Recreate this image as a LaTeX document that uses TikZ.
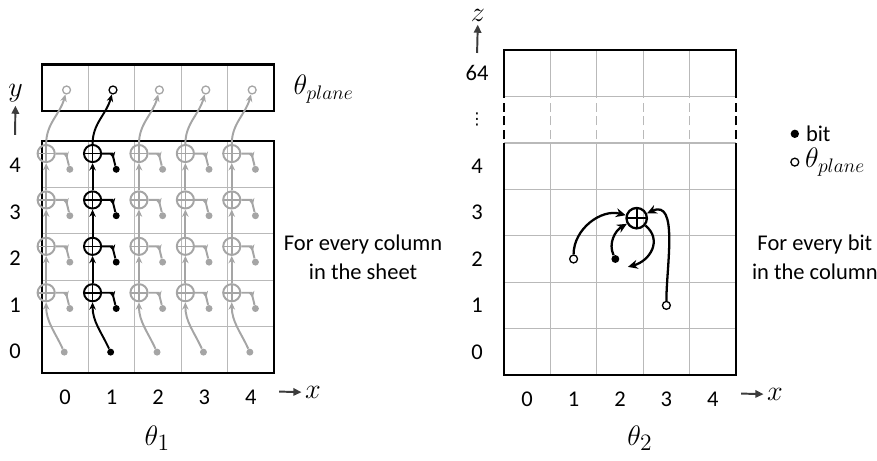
\documentclass[tikz,border=0pt]{standalone}
\usepackage{fontspec}
\setmainfont{Carlito}
\newfontfamily\dotsfont{DejaVu Sans}
\usetikzlibrary{positioning, arrows.meta, decorations.markings}
\definecolor{gridgray}{RGB}{185,185,185}
\definecolor{fadegray}{RGB}{165,165,165}
\definecolor{axisgray}{RGB}{60,60,60}

\begin{document}
\begin{tikzpicture}[
    every node/.style={font=\fontsize{13.8}{17.8}\selectfont},
    xorop/.style={circle, draw, inner sep=0pt, minimum size=0.37cm, line width=1.2pt,
      path picture={\draw[line width=1pt] (path picture bounding box.north) -- (path picture bounding box.south)
        (path picture bounding box.west) -- (path picture bounding box.east);}},
    bigxor/.style={xorop, minimum size=0.44cm, line width=1.4pt},
    bitdot/.style={circle, fill, inner sep=0pt, minimum size=0.15cm},
    planedot/.style={circle, draw, fill=white, inner sep=0pt, minimum size=0.17cm, line width=0.8pt},
    flow/.style={line width=1.2pt, -{Stealth[length=4.5pt,width=4pt]}},
    bigflow/.style={line width=1.4pt, -{Stealth[length=6pt,width=5.5pt]}},
    hook/.style={line width=1.2pt, postaction=decorate,
      decoration={markings, mark=at position 0.68 with {\arrow{Stealth[length=4pt,width=4pt]}}}},
    gridline/.style={gridgray, line width=0.8pt},
    border/.style={line width=1.5pt},
    axis/.style={axisgray, line width=1.2pt, -{Triangle[length=5pt,width=4.5pt]}},
    axisvar/.style={font=\fontsize{18}{18}\selectfont, inner sep=2pt},
    caption/.style={font=\fontsize{19}{19}\selectfont},
  ]
  \useasboundingbox (0,0) rectangle (18.901,9.914);

  \begin{scope}[shift={(0.905,1.875)}]
    \foreach \i in {1,...,4} \draw[gridline] (\i,0) -- (\i,5) (0,\i) -- (5,\i) (\i,5.65) -- (\i,6.65);
    \draw[border] (0,0) rectangle (5,5);
    \draw[border] (0,5.65) rectangle (5,6.65);
    \foreach \c/\col in {0/fadegray,1/black,2/fadegray,3/fadegray,4/fadegray} {
      \node[bitdot, fill=\col] (b\c0) at (\c+0.48,0.45) {};
      \node[planedot, draw=\col] (p\c) at (\c+0.53,6.1) {};
      \foreach \r in {1,...,4} {
        \node[xorop, \col] (x\c\r) at (\c+0.09,\r+0.73) {};
        \node[bitdot, fill=\col] (b\c\r) at (\c+0.6,\r+0.39) {};
        \draw[hook, \col] (x\c\r.east) -- ++(0.22,0) -- (b\c\r);
      }
      \draw[flow, \col] (b\c0) to[out=115,in=-90] (x\c1);
      \foreach \r [count=\s from 2] in {1,2,3} \draw[flow, \col] (x\c\r) -- (x\c\s);
      \draw[flow, \col] (x\c4) to[out=90,in=-105] (p\c);
    }
    \foreach \i in {0,...,4} {
      \node (row\i) at (-0.58,\i+0.47) {\i};
      \node (col\i) at (\i+0.5,-0.52) {\i};
    }
    \coordinate (ytail) at (-0.58,5.13);
    \node[axisvar] (yvar) at (-0.57,6.03) {$y$};
    \draw[axis] (ytail) -- (yvar);
    \coordinate (xtail) at (5.11,-0.40);
    \node[axisvar] (xvar) at (5.84,-0.42) {$x$};
    \draw[axis] (xtail) -- (xvar);
    \node[font=\fontsize{17}{17}\selectfont, anchor=west] (plane) at (5.3,6.12) {$\theta_{plane}$};
    \node[align=center] (sheet) at (6.92,2.5) {For every column\\in the sheet};
  \end{scope}
  \node[caption] (theta1) at (3.39,0.47) {$\theta_1$};

  \begin{scope}[shift={(10.862,1.832)}]
    \foreach \i in {1,...,4} {
      \draw[gridline] (\i,0) -- (\i,5) (\i,6) -- (\i,7);
      \draw[gridline, dash pattern=on 5.5pt off 3pt] (\i,5.08) -- (\i,6);
    }
    \foreach \i in {1,...,6} \draw[gridline] (0,\i) -- (5,\i);
    \draw[border] (0,5) -- (0,0) -- (5,0) -- (5,5) (0,6) -- (0,7) -- (5,7) -- (5,6);
    \draw[border, dash pattern=on 5.5pt off 3pt] (0,5.08) -- (0,6) (5,5.08) -- (5,6);
    \foreach \i in {0,...,4} {
      \node (zrow\i) at (-0.58,\i+0.5) {\i};
      \node (zcol\i) at (\i+0.5,-0.52) {\i};
    }
    \node (zdots) at (-0.58,5.5) {\dotsfont\fontsize{10}{10}\selectfont ⋮};
    \node (ztop) at (-0.58,6.5) {64};
    \coordinate (ztail) at (-0.58,6.94);
    \node[axisvar] (zvar) at (-0.56,7.76) {$z$};
    \draw[axis] (ztail) -- (zvar);
    \coordinate (xtail2) at (5.11,-0.40);
    \node[axisvar] (xvar2) at (5.84,-0.42) {$x$};
    \draw[axis] (xtail2) -- (xvar2);

    \node[bigxor] (xr) at (2.86,3.38) {};
    \node[planedot] (pa) at (1.5,2.5) {};
    \node[bitdot, minimum size=0.17cm] (bt) at (2.4,2.5) {};
    \node[planedot] (pb) at (3.5,1.5) {};
    \coordinate (back) at (2.67,2.33);
    \draw[bigflow] (pa) to[out=90,in=165] (xr);
    \draw[bigflow] (bt) to[out=115,in=-150] (xr);
    \draw[bigflow] (xr) to[out=-40,in=15,looseness=1.3] (back);
    \draw[bigflow] (pb) to[out=90,in=25] (xr);
    \node[align=center] (column) at (6.7,2.54) {For every bit\\in the column};
  \end{scope}
  \node[caption] (theta2) at (13.79,0.47) {$\theta_2$};

  \node[bitdot, minimum size=0.18cm] (legbit) at (17.13,7.03) {};
  \node[right=0.02cm of legbit] (legbittext) {bit};
  \node[planedot, minimum size=0.17cm] (legplane) at (17.13,6.42) {};
  \node[right=0cm of legplane, font=\fontsize{17}{17}\selectfont] (legplanetext) {$\theta_{plane}$};
\end{tikzpicture}
\end{document}
